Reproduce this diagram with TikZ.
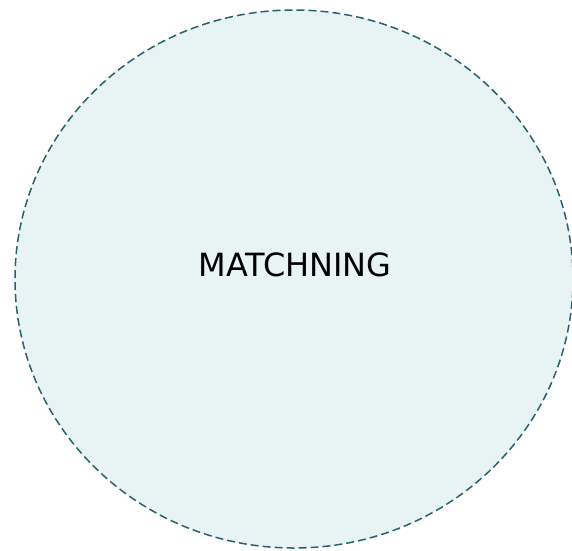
\documentclass[tikz,border=0pt]{standalone}
\usepackage{fontspec}
\setmainfont{DejaVu Sans}
\definecolor{tealline}{RGB}{40,98,108}
\definecolor{tealfill}{RGB}{232,244,244}
\usetikzlibrary{shapes.geometric, positioning}

\begin{document}
\begin{tikzpicture}[
  x=1pt, y=-1pt,
  zone/.style={ellipse, draw=tealline, fill=tealfill, line width=1.5pt,
               dash pattern=on 8pt off 4pt, inner sep=0pt,
               minimum width=558pt, minimum height=538pt},
  label/.style={font=\fontsize{32}{36}\selectfont, text=black, inner sep=0pt}
]
\useasboundingbox (0,0) rectangle (572,550);
\node[zone] (match) at (294,279) {};
\node[label, anchor=base] (title) at (295,276.5) {MATCHNING};
\end{tikzpicture}
\end{document}
